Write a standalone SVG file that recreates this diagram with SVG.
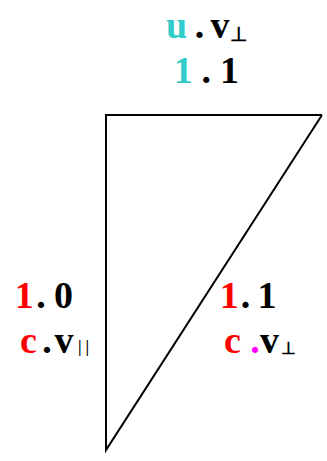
<svg xmlns="http://www.w3.org/2000/svg" width="327" height="461" viewBox="0 0 327 461">
<style>
text{font-family:"Liberation Serif","Times New Roman",serif;font-weight:bold;font-size:38px;fill:#000}
.cy{fill:#33CCCC}
.rd{fill:#FF0000}
.mg{fill:#FF00FF}
.sub{font-size:17px;font-weight:bold}
.subl{font-size:20px;font-weight:bold}
.bars{font-size:16px;font-weight:bold;letter-spacing:4px}
.edge{fill:none;stroke:#000;stroke-width:2}
</style>
<rect width="327" height="461" fill="#fff"/>
<g id="connectors">
<polyline class="edge" points="322,115 106,115 106,450 322,115"/>
</g>
<g id="top-label">
<text y="38"><tspan class="cy" x="166">u</tspan><tspan x="194.75">.</tspan><tspan x="210.5">v</tspan><tspan class="subl" x="230" y="41">⊥</tspan></text>
<text y="83"><tspan class="cy" x="173.7">1</tspan><tspan x="201.5">.</tspan><tspan x="220">1</tspan></text>
</g>
<g id="left-label">
<text y="308"><tspan class="rd" x="14.7">1</tspan><tspan x="36.25">.</tspan><tspan x="54">0</tspan></text>
<text y="353"><tspan class="rd" x="20">c</tspan><tspan x="42.25">.</tspan><tspan x="54.5">v</tspan><tspan class="bars" x="78" y="352">||</tspan></text>
</g>
<g id="right-label">
<text y="308"><tspan class="rd" x="219.7">1</tspan><tspan x="240.75">.</tspan><tspan x="257.5">1</tspan></text>
<text y="353"><tspan class="rd" x="224">c</tspan><tspan class="mg" x="250.25">.</tspan><tspan x="260">v</tspan><tspan class="sub" x="281" y="354">⊥</tspan></text>
</g>
</svg>
